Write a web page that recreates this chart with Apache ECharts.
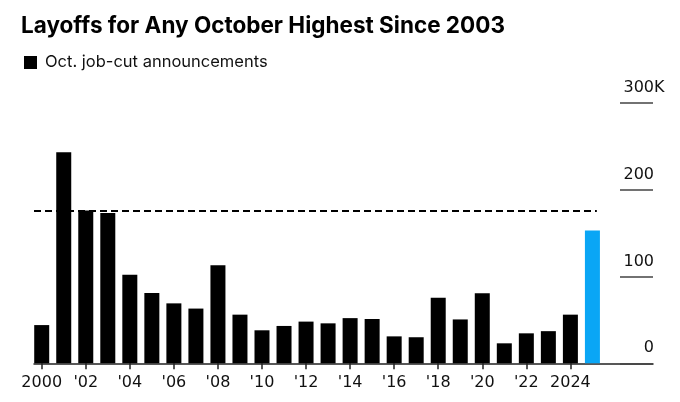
<!DOCTYPE html>
<html>
<head>
<meta charset="utf-8">
<script src="https://cdn.jsdelivr.net/npm/echarts@6/dist/echarts.min.js"></script>
<style>
  html, body { margin: 0; padding: 0; background: #ffffff; }
  #chart { width: 680px; height: 402px; }
</style>
</head>
<body>
<div id="chart"></div>
<script>
// ---- data ----
const titleText = 'Layoffs for Any October Highest Since 2003';
const seriesName = 'Oct. job-cut announcements';
const years = [2000, 2001, 2002, 2003, 2004, 2005, 2006, 2007, 2008, 2009,
               2010, 2011, 2012, 2013, 2014, 2015, 2016, 2017, 2018, 2019,
               2020, 2021, 2022, 2023, 2024, 2025];
const jobCuts = [44, 243, 176, 173, 102, 81, 69, 63, 113, 56,
                 38, 43, 48, 46, 52, 51, 31, 30, 75.5, 50.5,
                 80.6, 23, 34.5, 37, 56, 153];
const highlightYear = 2025;
const refLineValue = 176;
const xTickYears = [2000, 2002, 2004, 2006, 2008, 2010, 2012, 2014, 2016, 2018, 2020, 2022, 2024];
const xTickLabels = ['2000', "'02", "'04", "'06", "'08", "'10", "'12", "'14", "'16", "'18", "'20", "'22", '2024'];
const yTicks = [0, 100, 200, 300];
const yTickLabels = ['0', '100', '200', '300'];
const yUnit = 'K';

// ---- chart ----
const chart = echarts.init(document.getElementById('chart'), null, { renderer: 'canvas' });
const xMin = 1999.65, xMax = 2027.75, refLineEnd = 2025.2;
const axisFont = 'DejaVu Sans';

chart.setOption({
  animation: false,
  backgroundColor: '#ffffff',
  title: {
    text: titleText,
    left: 21, top: 15, padding: 0,
    textStyle: { fontFamily: 'Inter', fontWeight: 'bold', fontSize: 22.5, color: '#000' }
  },
  legend: {
    left: 24, top: 54, padding: 0,
    icon: 'rect', itemWidth: 13, itemHeight: 13, itemGap: 8,
    selectedMode: false,
    textStyle: { fontFamily: 'Inter', fontSize: 16.5, color: '#111', padding: [0, 0, 0, 3] },
    data: [{ name: seriesName, itemStyle: { color: '#000' } }]
  },
  grid: { left: 34, right: 27, top: 102.7, bottom: 38.7, containLabel: false },
  xAxis: {
    type: 'value', min: xMin, max: xMax,
    splitLine: { show: false },
    axisLine: { show: true, onZero: false, lineStyle: { color: '#222', width: 1.5 } },
    axisTick: { show: true, length: 6, customValues: xTickYears, lineStyle: { color: '#222', width: 1.5 } },
    axisLabel: {
      show: true, customValues: xTickYears, margin: 11.5,
      fontFamily: axisFont, fontSize: 16, color: '#111',
      formatter: v => xTickLabels[xTickYears.indexOf(Math.round(v))] ?? ''
    }
  },
  yAxis: {
    type: 'value', position: 'right', min: 0, max: 300, interval: 100,
    splitLine: { show: false },
    axisLine: { show: false },
    axisTick: { show: true, inside: true, length: 33, lineStyle: { color: '#444', width: 1.5 } },
    axisLabel: {
      show: true, inside: true, margin: -11.5,
      verticalAlign: 'bottom',
      formatter: v => {
        const i = yTicks.indexOf(v);
        const t = i >= 0 ? yTickLabels[i] : String(v);
        return v === yTicks[yTicks.length - 1] ? '{n|' + t + '}{k|' + yUnit + '}' : '{n|' + t + '}{p| }';
      },
      rich: {
        n: { fontFamily: axisFont, fontSize: 16, color: '#111', padding: [0, 0, 7, 0] },
        k: { fontFamily: axisFont, fontSize: 16, color: '#111', padding: [0, 0, 7, 0] },
        p: { fontFamily: axisFont, fontSize: 16, width: 10.5, padding: [0, 0, 7, 0] }
      }
    }
  },
  series: [{
    name: seriesName,
    type: 'bar',
    barWidth: 15,
    itemStyle: { color: '#000' },
    data: years.map((y, i) => ({
      value: [y, jobCuts[i]],
      itemStyle: { color: y === highlightYear ? '#0aa6f5' : '#000' }
    })),
    markLine: {
      silent: true, symbol: 'none', label: { show: false },
      lineStyle: { color: '#000', type: [7, 4], width: 2 },
      data: [[{ coord: [xMin, refLineValue] }, { coord: [refLineEnd, refLineValue] }]]
    }
  }]
});
</script>
</body>
</html>
